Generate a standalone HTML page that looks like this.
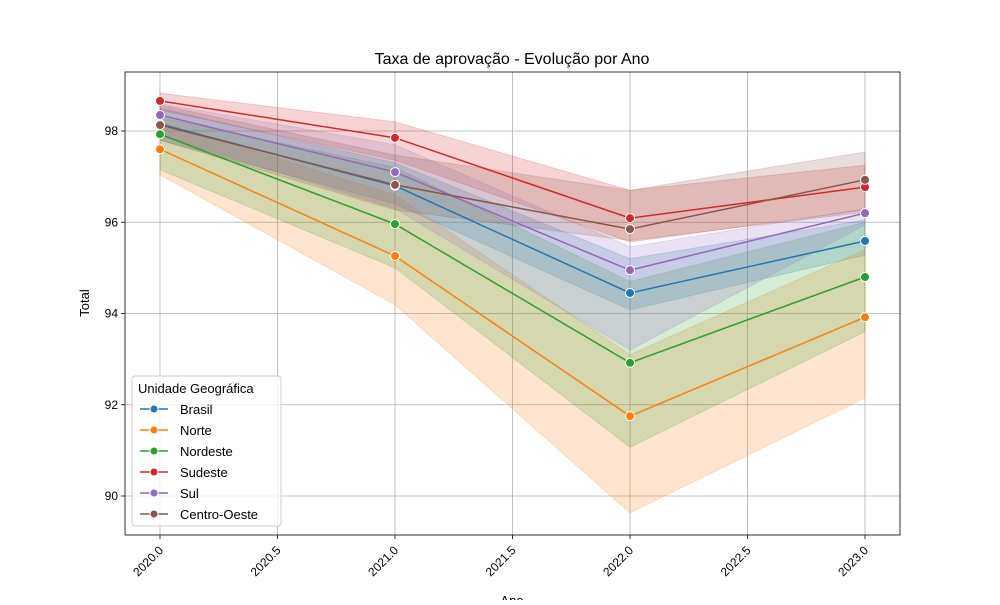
<!DOCTYPE html>
<html><head><meta charset="utf-8">
<style>body{margin:0;background:#fff}svg{font-family:"Liberation Sans","DejaVu Sans",sans-serif}</style>
</head><body>
<svg id="chart" width="1000" height="600" xmlns="http://www.w3.org/2000/svg"></svg>
<script>
const years=[2020,2021,2022,2023];
const seriesNames=["Brasil","Norte","Nordeste","Sudeste","Sul","Centro-Oeste"];
const colors=["#1f77b4","#ff7f0e","#2ca02c","#d62728","#9467bd","#8c564b"];
const brasil=[98.15,96.8,94.45,95.59];
const norte=[97.6,95.26,91.75,93.92];
const nordeste=[97.93,95.96,92.92,94.8];
const sudeste=[98.66,97.85,96.09,96.77];
const sul=[98.35,97.1,94.95,96.2];
const centroOeste=[98.13,96.82,95.85,96.93];
const brasilLo=[97.8,96.4,94.08,95.28], brasilHi=[98.5,97.3,95.2,96.05];
const norteLo=[97.04,94.19,89.63,92.15], norteHi=[98.2,96.6,93.1,95.4];
const nordesteLo=[97.15,95.0,91.07,93.6], nordesteHi=[98.3,97.2,94.7,96.0];
const sudesteLo=[98.46,97.36,95.57,96.27], sudesteHi=[98.83,98.2,96.7,97.25];
const sulLo=[97.9,96.3,93.2,95.94], sulHi=[98.6,97.7,95.46,96.3];
const coLo=[97.8,96.27,95.6,96.22], coHi=[98.57,97.47,96.7,97.54];
const xTicks=[2020,2020.5,2021,2021.5,2022,2022.5,2023];
const yTicks=[90,92,94,96,98];
const means=[brasil,norte,nordeste,sudeste,sul,centroOeste];
const los=[brasilLo,norteLo,nordesteLo,sudesteLo,sulLo,coLo];
const his=[brasilHi,norteHi,nordesteHi,sudesteHi,sulHi,coHi];
const L=125,R=900,T=72,B=535;
const x=v=>160+(v-2020)*235;
const y=v=>131-(v-98)*45.625;
const svg=document.getElementById('chart');
const NS='http://www.w3.org/2000/svg';
function mk(t,a,p){const e=document.createElementNS(NS,t);for(const k in a)e.setAttribute(k,a[k]);(p||svg).appendChild(e);return e;}
mk('rect',{x:0,y:0,width:1000,height:600,fill:'#fff'});
const grid=mk('g',{});


xTicks.forEach(t=>{mk('line',{x1:x(t),x2:x(t),y1:T,y2:B,stroke:'#b0b0b0','stroke-width':0.8},grid);
 mk('line',{x1:x(t),x2:x(t),y1:B,y2:B+4,stroke:'#000','stroke-width':0.8},grid);
 const tx=mk('text',{x:x(t)+4,y:B+16,'font-size':12,'text-anchor':'end',transform:`rotate(-45 ${x(t)+4} ${B+16})`},grid);
 
 
 tx.textContent=t.toFixed(1);});
yTicks.forEach(t=>{mk('line',{x1:L,x2:R,y1:y(t),y2:y(t),stroke:'#b0b0b0','stroke-width':0.8},grid);
 mk('line',{x1:L-4,x2:L,y1:y(t),y2:y(t),stroke:'#000','stroke-width':0.8},grid);
 const tx=mk('text',{x:L-7,y:y(t)+4,'font-size':12,'text-anchor':'end'},grid);
 
 
 tx.textContent=t;});
seriesNames.forEach((n,i)=>{
 const pts=years.map((yr,j)=>x(yr)+','+y(his[i][j])).concat(years.slice().reverse().map((yr,j)=>x(yr)+','+y(los[i][3-j])));
 const b=mk('polygon',{points:pts.join(' '),fill:colors[i],'fill-opacity':0.2,stroke:colors[i],'stroke-opacity':0.2});
 
 
});
seriesNames.forEach((n,i)=>{
 const l=mk('polyline',{points:years.map((yr,j)=>x(yr)+','+y(means[i][j])).join(' '),fill:'none',stroke:colors[i],'stroke-width':1.5});
 
 
 years.forEach((yr,j)=>{const c=mk('circle',{cx:x(yr),cy:y(means[i][j]),r:4.5,fill:colors[i],stroke:'#fff','stroke-width':1});
 
 });
});
mk('rect',{x:L,y:T,width:R-L,height:B-T,fill:'none',stroke:'#000','stroke-width':0.8});
const ti=mk('text',{x:512,y:64,'font-size':16,'text-anchor':'middle'});


ti.textContent='Taxa de aprovação - Evolução por Ano';
const xl=mk('text',{x:512,y:605,'font-size':13,'text-anchor':'middle'});


xl.textContent='Ano';
const yl=mk('text',{x:89,y:303,'font-size':13,'text-anchor':'middle',transform:'rotate(-90 89 303)'});


yl.textContent='Total';
const lg=mk('g',{});


mk('rect',{x:132,y:376,width:149,height:150,rx:3,fill:'#fff','fill-opacity':0.8,stroke:'#ccc'},lg);
const lt=mk('text',{x:138,y:393,'font-size':13},lg);
lt.textContent='Unidade Geográfica';
seriesNames.forEach((n,i)=>{const yy=409+i*21;
 const e=mk('g',{},lg);
 
 
 mk('line',{x1:140,x2:168,y1:yy,y2:yy,stroke:colors[i],'stroke-width':1.5},e);
 mk('circle',{cx:154,cy:yy,r:4,fill:colors[i],stroke:'#fff','stroke-width':1},e);
 const t=mk('text',{x:180,y:yy+5,'font-size':13},e);t.textContent=n;});
</script>
</body></html>
